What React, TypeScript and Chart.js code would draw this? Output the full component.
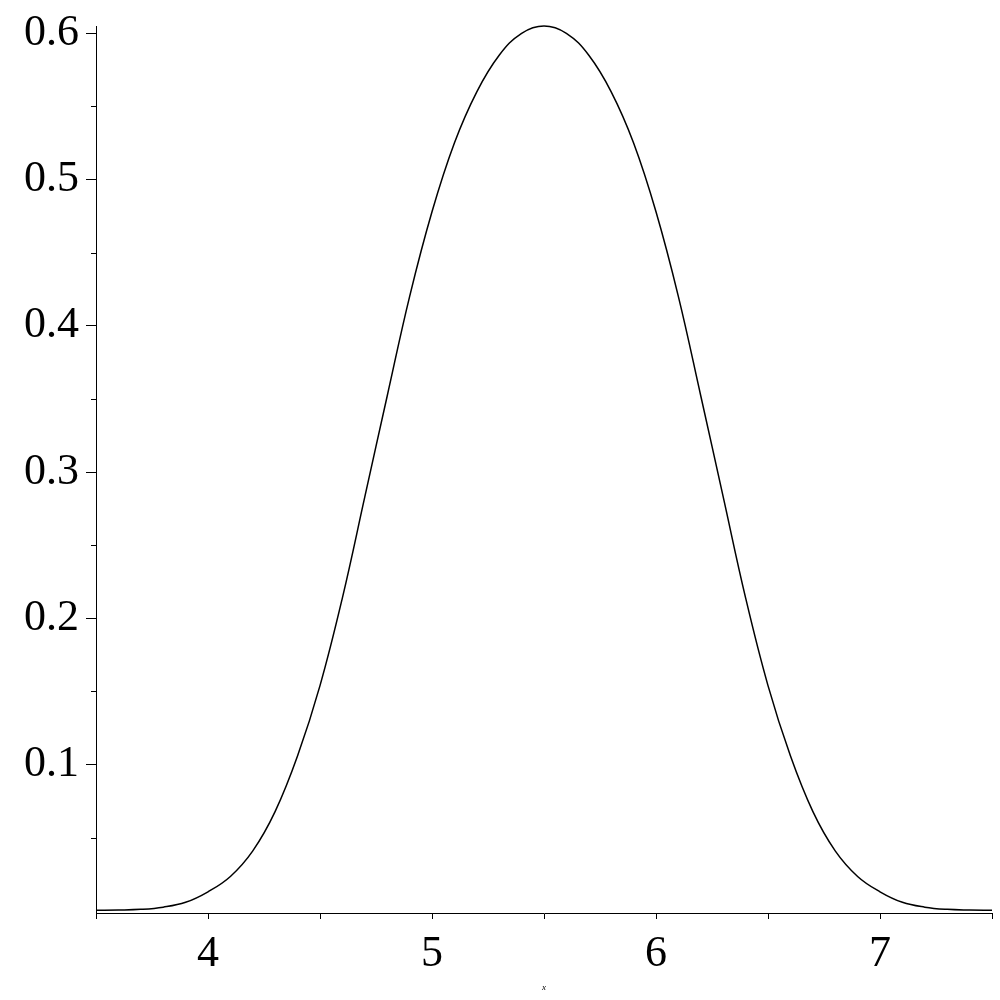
import React, { useEffect, useRef } from "react";
import { Chart, registerables } from "chart.js";

Chart.register(...registerables);

const xValues = [
  3.5, 3.6, 3.7, 3.8, 3.9, 4.0, 4.1, 4.2, 4.3, 4.4, 4.5, 4.6, 4.7, 4.8, 4.9, 5.0,
  5.1, 5.2, 5.3, 5.4, 5.5, 5.6, 5.7, 5.8, 5.9, 6.0, 6.1, 6.2, 6.3, 6.4, 6.5, 6.6,
  6.7, 6.8, 6.9, 7.0, 7.1, 7.2, 7.3, 7.4, 7.5,
];

const yValues = [
  0.0003, 0.0005, 0.001, 0.0025, 0.0058, 0.013, 0.0235, 0.041, 0.068, 0.106, 0.154,
  0.214, 0.283, 0.352, 0.42, 0.478, 0.525, 0.56, 0.585, 0.6, 0.605, 0.6,
  0.585, 0.56, 0.525, 0.478, 0.42, 0.352, 0.283, 0.214, 0.154, 0.106, 0.068,
  0.041, 0.0235, 0.013, 0.0058, 0.0025, 0.001, 0.0005, 0.0003,
];

const xTickLabels = [4, 5, 6, 7];
const yTickLabels = [0.1, 0.2, 0.3, 0.4, 0.5, 0.6];
const yMinorTicks = [0.05, 0.15, 0.25, 0.35, 0.45, 0.55];

const FONT = "'Liberation Serif', 'DejaVu Serif', serif";

function isMajorY(v: number) {
  return yTickLabels.some((t) => Math.abs(t - v) < 1e-6);
}

const minorTickPlugin = {
  id: "minorTicks",
  afterDraw(chart: any) {
    const y = chart.scales.y;
    const ctx = chart.ctx;
    const left = chart.chartArea.left;
    ctx.save();
    ctx.strokeStyle = "#000";
    ctx.lineWidth = 1;
    yMinorTicks.forEach((v) => {
      const py = Math.round(y.getPixelForValue(v)) + 0.5;
      ctx.beginPath();
      ctx.moveTo(left - 5, py);
      ctx.lineTo(left, py);
      ctx.stroke();
    });
    ctx.restore();
  },
};

export default function App() {
  const ref = useRef<HTMLCanvasElement | null>(null);

  useEffect(() => {
    if (!ref.current) return;
    const chart = new Chart(ref.current, {
      type: "line",
      data: {
        datasets: [
          {
            data: xValues.map((x, i) => ({ x, y: yValues[i] })),
            borderColor: "#000",
            borderWidth: 1.5,
            pointRadius: 0,
            fill: false,
            tension: 0.4,
            clip: false as any,
          },
        ],
      },
      options: {
        animation: false,
        responsive: false,
        maintainAspectRatio: false,
        layout: { padding: { top: 26, right: 8, left: 0, bottom: 0 } },
        plugins: {
          legend: { display: false },
          tooltip: { enabled: false },
        },
        scales: {
          x: {
            type: "linear",
            min: 3.5,
            max: 7.5,
            afterFit: (s: any) => {
              s.height = 87;
              s.paddingLeft = 0;
              s.paddingRight = 0;
            },
            border: { display: true, color: "#000", width: 1 },
            grid: {
              display: true,
              drawOnChartArea: false,
              drawTicks: true,
              tickLength: 6,
              tickColor: "#000",
              color: "#000",
            },
            ticks: {
              stepSize: 0.5,
              autoSkip: false,
              maxRotation: 0,
              color: "#000",
              padding: 13,
              font: { family: FONT, size: 44, lineHeight: 1 },
              callback: (v: any) =>
                xTickLabels.includes(Number(v)) ? String(v) : "",
            },
            title: {
              display: true,
              text: "x",
              color: "#000",
              font: { family: FONT, size: 9, style: "italic", lineHeight: 1 },
              padding: { top: 0, bottom: 8 },
            },
          },
          y: {
            type: "linear",
            min: -0.0015,
            max: 0.605,
            afterFit: (s: any) => {
              s.width = 96;
              s.paddingTop = 0;
              s.paddingBottom = 0;
            },
            border: { display: true, color: "#000", width: 1 },
            grid: {
              display: true,
              drawOnChartArea: false,
              drawTicks: true,
              tickLength: 10,
              tickColor: (c: any) =>
                c.tick && isMajorY(c.tick.value) ? "#000" : "rgba(0,0,0,0)",
              color: "#000",
            },
            ticks: {
              stepSize: 0.05,
              includeBounds: false,
              autoSkip: false,
              color: "#000",
              padding: 7,
              font: { family: FONT, size: 44, lineHeight: 1 },
              callback: (v: any) => {
                const n = Number(v);
                return isMajorY(n) ? n.toFixed(1) : "";
              },
            },
          },
        },
      },
      plugins: [minorTickPlugin],
    } as any);
    return () => chart.destroy();
  }, []);

  return (
    <div style={{ position: "absolute", left: 0, top: 0, width: 1000, height: 1000, background: "#fff" }}>
      <canvas ref={ref} width={1000} height={1000} style={{ width: 1000, height: 1000 }} />
    </div>
  );
}
